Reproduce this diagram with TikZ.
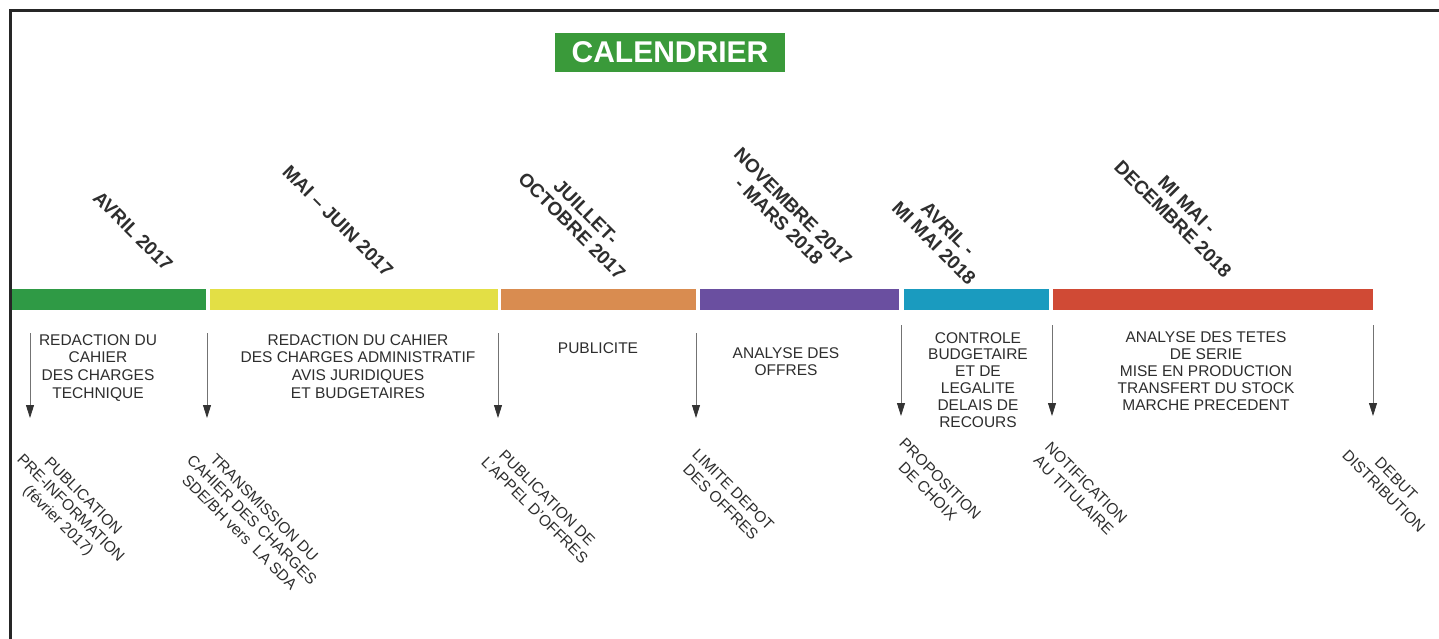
\documentclass[tikz,border=0pt]{standalone}
\usepackage{fontspec}
\setmainfont{Liberation Sans}
\usetikzlibrary{arrows.meta}
\definecolor{cgreen}{HTML}{2F9A45}
\definecolor{cyellow}{HTML}{E3DF45}
\definecolor{corange}{HTML}{D98C50}
\definecolor{cpurple}{HTML}{6A4FA0}
\definecolor{ccyan}{HTML}{1A9BBF}
\definecolor{cred}{HTML}{D04A35}
\definecolor{ctitle}{HTML}{3A9A3A}
\definecolor{ctext}{HTML}{2E2E2E}
\begin{document}
\begin{tikzpicture}[x=1pt,y=1pt,
  datelbl/.style={rotate=-45,align=center,font=\fontsize{19}{20}\selectfont\bfseries,text=ctext,inner sep=0pt},
  tasklbl/.style={align=center,font=\fontsize{15.5}{17.7}\selectfont,text=ctext,inner sep=0pt,anchor=north},
  eventlbl/.style={rotate=-45,align=center,font=\fontsize{15.5}{17.5}\selectfont,text=ctext,inner sep=0pt},
  milestone/.style={draw=black!55,line width=0.8pt,-{Triangle[width=8pt,length=13pt,color=black!80,fill=black!80]}}]
\useasboundingbox (0,0) rectangle (1439,-639);
\fill[white] (0,0) rectangle (1439,-639);
% frame
\draw[line width=3pt,black!85] (1439,-11) -- (10,-11) -- (10,-639);
% title
\node[fill=ctitle,text=white,font=\fontsize{30}{32}\selectfont\bfseries,minimum width=230pt,minimum height=39pt,inner sep=0pt] (title) at (670,-52.5) {CALENDRIER};
% bar segments
\fill[cgreen] (12,-289) rectangle (206,-310);
\fill[cyellow] (210,-289) rectangle (498,-310);
\fill[corange] (501,-289) rectangle (696,-310);
\fill[cpurple] (700,-289) rectangle (899,-310);
\fill[ccyan] (904,-289) rectangle (1049,-310);
\fill[cred] (1053,-289) rectangle (1373,-310);
% date labels
\node[datelbl] (d1) at (133,-231) {AVRIL 2017};
\node[datelbl] (d2) at (338,-221) {MAI -- JUIN 2017};
\node[datelbl] (d3) at (579,-219) {JUILLET-\\OCTOBRE 2017};
\node[datelbl] (d4) at (786,-214) {NOVEMBRE 2017\\- MARS 2018};
\node[datelbl] (d5) at (941,-236) {AVRIL -\\MI MAI 2018};
\node[datelbl] (d6) at (1180,-212) {MI MAI -\\DECEMBRE 2018};
% task labels
\node[tasklbl] (t1) at (98,-334) {REDACTION DU\\CAHIER\\DES CHARGES\\TECHNIQUE};
\node[tasklbl] (t2) at (358,-334) {REDACTION DU CAHIER\\DES CHARGES ADMINISTRATIF\\AVIS JURIDIQUES\\ET BUDGETAIRES};
\node[tasklbl] (t3) at (598,-342) {PUBLICITE};
\node[tasklbl] (t4) at (786,-347) {ANALYSE DES\\OFFRES};
\node[tasklbl,font=\fontsize{15.5}{16.9}\selectfont] (t5) at (978,-332) {CONTROLE\\BUDGETAIRE\\ET DE\\LEGALITE\\DELAIS DE\\RECOURS};
\node[tasklbl,font=\fontsize{15.5}{17}\selectfont] (t6) at (1206,-331) {ANALYSE DES TETES\\DE SERIE\\MISE EN PRODUCTION\\TRANSFERT DU STOCK\\MARCHE PRECEDENT};
% milestone arrows
\coordinate (a1s) at (30,-333); \coordinate (a1e) at (30,-418);
\coordinate (a2s) at (207,-333); \coordinate (a2e) at (207,-418);
\coordinate (a3s) at (498,-333); \coordinate (a3e) at (498,-418);
\coordinate (a4s) at (696,-333); \coordinate (a4e) at (696,-418);
\coordinate (a5s) at (901,-325); \coordinate (a5e) at (901,-416);
\coordinate (a6s) at (1052,-325); \coordinate (a6e) at (1052,-416);
\coordinate (a7s) at (1373,-325); \coordinate (a7e) at (1373,-416);
\foreach \i in {1,...,7} {\draw[milestone] (a\i s) -- (a\i e);}
% event labels
\node[eventlbl] (e1) at (70,-509) {PUBLICATION\\PRE-INFORMATION\\(février 2017)};
\node[eventlbl] (e2) at (252,-520) {TRANSMISSION DU\\CAHIER DES CHARGES\\SDE/BH vers\ \ LA SDA};
\node[eventlbl] (e3) at (541,-504) {PUBLICATION DE\\L'APPEL D'OFFRES};
\node[eventlbl] (e4) at (727,-496) {LIMITE DEPOT\\DES OFFRES};
\node[eventlbl] (e5) at (934,-485) {PROPOSITION\\DE CHOIX};
\node[eventlbl] (e6) at (1080,-489) {NOTIFICATION\\AU TITULAIRE};
\node[eventlbl] (e7) at (1390,-485) {DEBUT\\DISTRIBUTION};
\end{tikzpicture}
\end{document}
